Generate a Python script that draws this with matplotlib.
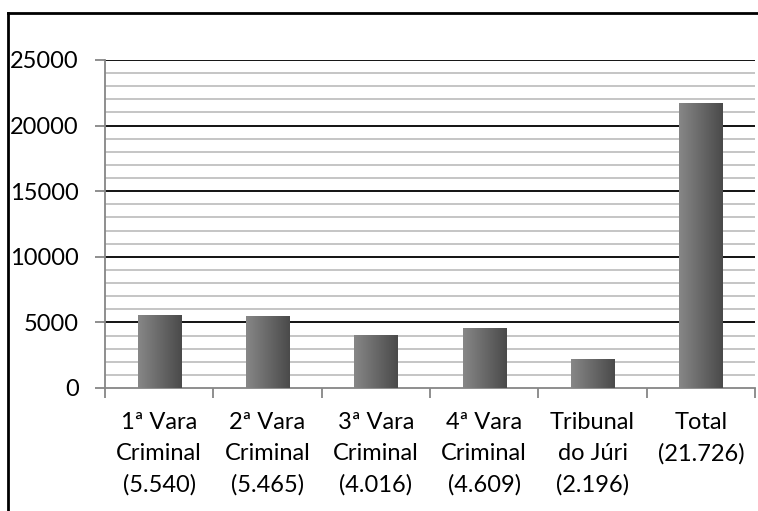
import matplotlib.pyplot as plt
import numpy as np
from matplotlib.lines import Line2D
from matplotlib.colors import LinearSegmentedColormap

categories = ["1ª Vara\nCriminal\n(5.540)", "2ª Vara\nCriminal\n(5.465)",
              "3ª Vara\nCriminal\n(4.016)", "4ª Vara\nCriminal\n(4.609)",
              "Tribunal\ndo Júri\n(2.196)", "Total\n(21.726)"]
values = [5540, 5465, 4016, 4609, 2196, 21726]
y_ticks = [0, 5000, 10000, 15000, 20000, 25000]

plt.rcParams['font.family'] = ['Lato', 'DejaVu Sans']

fig = plt.figure(figsize=(7.58, 5.11), dpi=100)
ax = fig.add_axes([105 / 758, 1 - 388 / 511, 650 / 758, 328 / 511])

x = np.arange(len(values))

# gridlines: light gray every 1000, black every 5000
for yv in range(1000, 25001, 1000):
    if yv % 5000 == 0:
        ax.axhline(yv, color="black", lw=1.3, zorder=1)
    else:
        ax.axhline(yv, color="#c0c0c0", lw=1.3, zorder=1)

cmap = LinearSegmentedColormap.from_list("g", ["#878787", "#4a4a4a"])
grad = np.linspace(0, 1, 256).reshape(1, -1)
bars = ax.bar(x, values, width=0.4, color="none", edgecolor="none", zorder=2)
for b in bars:
    x0, w, h = b.get_x(), b.get_width(), b.get_height()
    im = ax.imshow(grad, extent=[x0, x0 + w, 0, h], aspect="auto",
                   cmap=cmap, zorder=3)
    im.set_clip_path(b)
ax.set_xlim(-0.5, len(values) - 0.5)
ax.set_ylim(0, 25000)

for s in ["top", "right"]:
    ax.spines[s].set_visible(False)
for s in ["left", "bottom"]:
    ax.spines[s].set_color("#868686")
    ax.spines[s].set_linewidth(1.3)

ax.set_yticks(y_ticks)
ax.set_yticklabels([str(v) for v in y_ticks], fontsize=17)
ax.tick_params(axis="y", length=7, color="#868686", width=1.3, pad=12)

ax.set_xticks(x)
ax.set_xticklabels(categories, fontsize=17, linespacing=1.6)
ax.tick_params(axis="x", which="major", length=0, pad=17)
ax.set_xticks(np.arange(-0.5, len(values)), minor=True)
ax.tick_params(axis="x", which="minor", length=7, color="#868686", width=1.3)

# chart frame (only left and top edges visible in the crop)
fig.add_artist(Line2D([8 / 758, 8 / 758], [0, 1 - 13 / 511],
                      transform=fig.transFigure, color="black", lw=2))
fig.add_artist(Line2D([8 / 758, 1], [1 - 13 / 511, 1 - 13 / 511],
                      transform=fig.transFigure, color="black", lw=2))

fig.savefig("out.png", dpi=100)
